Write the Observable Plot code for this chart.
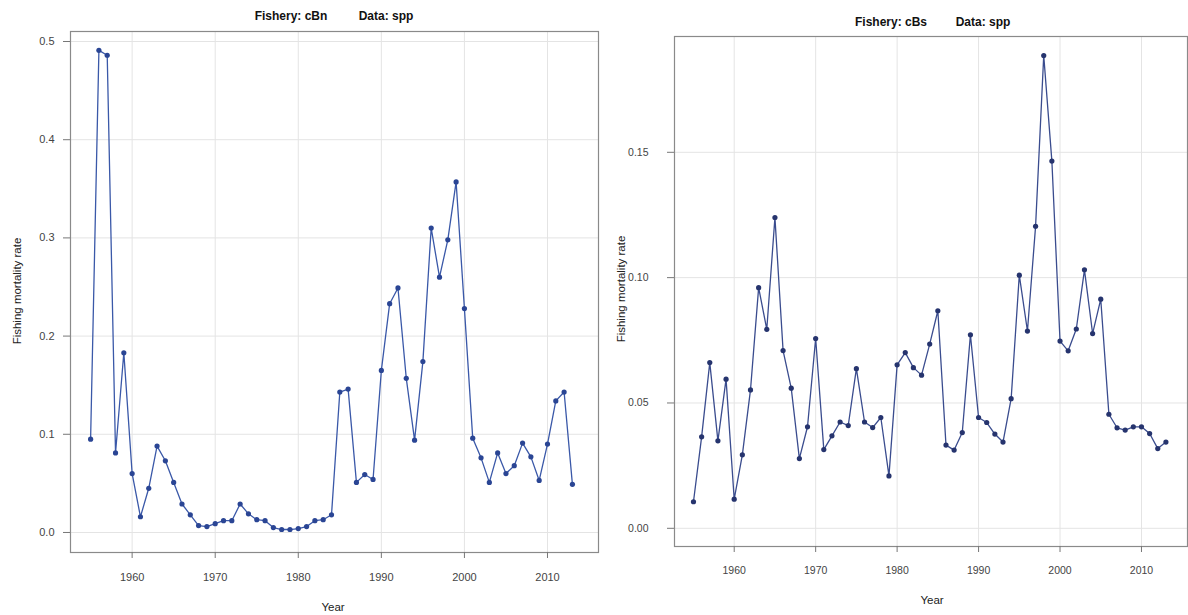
<!DOCTYPE html>
<html><head><meta charset="utf-8">
<script src="https://cdn.jsdelivr.net/npm/d3@7"></script>
<script src="https://cdn.jsdelivr.net/npm/@observablehq/plot@0.6"></script>
<style>
body{margin:0;background:#fff;}
#wrap{position:relative;width:1188px;height:615px;overflow:hidden;font-family:"Liberation Sans",Arial,sans-serif;}
.panel{position:absolute;top:0;}
.t{position:absolute;white-space:nowrap;color:#111;transform:translate(-50%,-50%);}
.b{font-weight:bold;font-size:12px;}
.lab{font-size:11.5px;color:#222;}
</style></head><body><div id="wrap"></div>
<script>
const years = [1955,1956,1957,1958,1959,1960,1961,1962,1963,1964,1965,1966,1967,1968,1969,1970,1971,1972,1973,1974,1975,1976,1977,1978,1979,1980,1981,1982,1983,1984,1985,1986,1987,1988,1989,1990,1991,1992,1993,1994,1995,1996,1997,1998,1999,2000,2001,2002,2003,2004,2005,2006,2007,2008,2009,2010,2011,2012,2013];
const fCBn = [0.095,0.491,0.486,0.081,0.183,0.060,0.016,0.045,0.088,0.073,0.051,0.029,0.018,0.007,0.006,0.009,0.012,0.012,0.029,0.019,0.013,0.012,0.005,0.003,0.003,0.004,0.006,0.012,0.013,0.018,0.143,0.146,0.051,0.059,0.054,0.165,0.233,0.249,0.157,0.094,0.174,0.310,0.260,0.298,0.357,0.228,0.096,0.076,0.051,0.081,0.060,0.068,0.091,0.077,0.053,0.090,0.134,0.143,0.049];
const fCBs = [0.0106,0.0365,0.0661,0.0349,0.0595,0.0116,0.0293,0.0552,0.096,0.0794,0.124,0.0709,0.0559,0.0278,0.0405,0.0757,0.0314,0.0369,0.0424,0.041,0.0637,0.0424,0.0402,0.0442,0.0209,0.0652,0.0701,0.0641,0.0611,0.0735,0.0868,0.0332,0.0312,0.0382,0.0772,0.0442,0.0422,0.0376,0.0344,0.0517,0.101,0.0787,0.1205,0.1886,0.1465,0.0747,0.0708,0.0795,0.1031,0.0777,0.0914,0.0455,0.0401,0.0392,0.0405,0.0405,0.0378,0.0318,0.0344];
const xTicks = [1960,1970,1980,1990,2000,2010];
const yTicksN = [0,0.1,0.2,0.3,0.4,0.5];
const yTicksS = [0,0.05,0.10,0.15];
const titlesN = ["Fishery: cBn","Data: spp"];
const titlesS = ["Fishery: cBs","Data: spp"];
const yLabel = "Fishing mortality rate";
const xLabel = "Year";

const wrap = document.getElementById("wrap");

function panel(opts){
  const data = years.map((y,i)=>({year:y, f:opts.values[i]}));
  const svg = Plot.plot({
    width: opts.width, height: 615,
    marginLeft: opts.ml, marginRight: opts.mr, marginTop: opts.mt, marginBottom: opts.mb,
    style:{fontFamily:"'Liberation Sans',Arial,sans-serif", fontSize:opts.fs, color:"#444", background:"transparent"},
    x:{domain:opts.xd},
    y:{domain:opts.yd},
    marks:[
      Plot.gridX(xTicks,{stroke:"#e4e4e4", strokeOpacity:1}),
      Plot.gridY(opts.yTicks,{stroke:"#e4e4e4", strokeOpacity:1}),
      Plot.frame({stroke:"#8a8a8a", strokeWidth:1.2}),
      Plot.axisX(xTicks,{tickSize:6, tickPadding:opts.xpad, label:null, tickFormat:d=>String(d), stroke:"#777"}),
      Plot.axisY(opts.yTicks,{tickSize:7, tickPadding:opts.ypad, label:null, tickFormat:opts.fmt, stroke:"#777"}),
      Plot.line(data,{x:"year", y:"f", stroke:opts.color, strokeWidth:1.3}),
      Plot.dot(data,{x:"year", y:"f", r:2.6, fill:opts.dotColor, stroke:"none"})
    ]
  });
  svg.classList.add("panel");
  svg.style.left = opts.left + "px";
  wrap.appendChild(svg);
}

panel({values:fCBn, left:0, width:600, ml:70, mr:2, mt:31, mb:63,
  xd:[1952.58,2016.14], yd:[-0.0204,0.5102], yTicks:yTicksN, fmt:d3.format(".1f"),
  xpad:15, ypad:9, fs:"11px", color:"#3a58a8", dotColor:"#2a4594"});
panel({values:fCBs, left:600, width:588, ml:74, mr:1, mt:36, mb:69,
  xd:[1952.67,2015.65], yd:[-0.00726,0.1962], yTicks:yTicksS, fmt:d3.format(".2f"),
  xpad:14, ypad:19, fs:"10.5px", color:"#3a4c8e", dotColor:"#26346e"});

function txt(s, x, y, cls, rot){
  const d = document.createElement("div");
  d.className = "t " + cls;
  d.textContent = s;
  d.style.left = x + "px"; d.style.top = y + "px";
  if (rot) d.style.transform = "translate(-50%,-50%) rotate(-90deg)";
  wrap.appendChild(d);
}
txt(titlesN[0], 291, 16, "b");
txt(titlesN[1], 386, 16, "b");
txt(titlesS[0], 891, 22, "b");
txt(titlesS[1], 983, 22, "b");
txt(yLabel, 17, 291, "lab", true);
txt(yLabel, 621, 289, "lab", true);
txt(xLabel, 333, 607, "lab");
txt(xLabel, 932, 600, "lab");
</script></body></html>
